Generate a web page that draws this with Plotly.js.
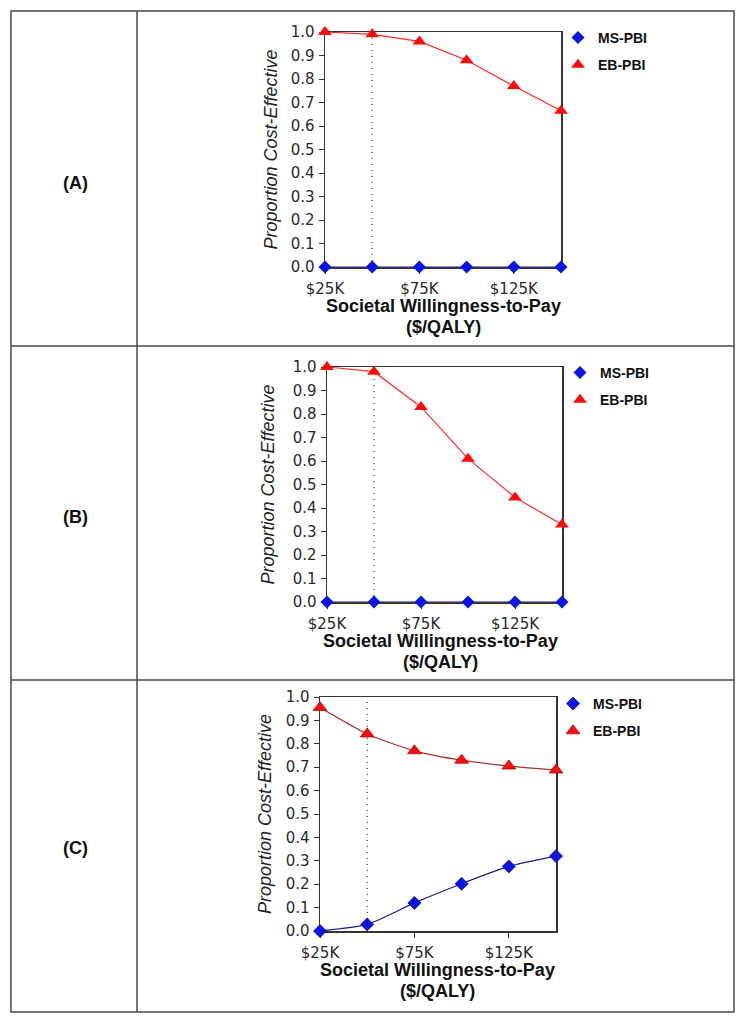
<!DOCTYPE html>
<html>
<head>
<meta charset="utf-8">
<script src="https://cdn.plot.ly/plotly-3.0.1.min.js"></script>
<style>html,body{margin:0;padding:0;background:#fff;}#chart{width:743px;height:1021px;}</style>
</head>
<body>
<div id="chart"></div>
<script>
// ---- data ----
const wtp = [25000, 50000, 75000, 100000, 125000, 150000];
const xTickVals = [25000, 75000, 125000];
const xTickText = ["$25K", "$75K", "$125K"];
const thresholdWtp = 50000;
const panelLabels = ["(A)", "(B)", "(C)"];
const seriesNames = ["MS-PBI", "EB-PBI"];
const msA = [0, 0, 0, 0, 0, 0];
const ebA = [1.0, 0.99, 0.96, 0.88, 0.77, 0.665];
const msB = [0, 0, 0, 0, 0, 0];
const ebB = [1.0, 0.98, 0.83, 0.61, 0.445, 0.33];
const msC = [0.0, 0.028, 0.12, 0.202, 0.276, 0.32];
const ebC = [0.955, 0.842, 0.77, 0.73, 0.705, 0.688];
const yTitle = "Proportion Cost-<i>Effective</i>";
const xTitle1 = "Societal Willingness-to-Pay";
const xTitle2 = "($/QALY)";

// ---- layout helpers (pixel -> paper) ----
const W = 743, H = 1021;
const px = v => v / W;
const py = v => 1 - v / H;

const panels = [
  {ms: msA, eb: ebA, box: [325, 561, 32, 267], msLine: "#1a1adc", ebLine: "#ff2a2a", smooth: false, leg: [558, 22], yt: 270, xc: 443, lab: 183},
  {ms: msB, eb: ebB, box: [327, 562, 367, 602], msLine: "#1a1adc", ebLine: "#ff2a2a", smooth: false, leg: [560, 357], yt: 268, xc: 441, lab: 517},
  {ms: msC, eb: ebC, box: [320, 556, 697, 931], msLine: "#1c1c80", ebLine: "#a8302e", smooth: true, leg: [553, 688], yt: 265, xc: 437, lab: 848}
];

const data = [];
const layout = {
  width: W, height: H,
  margin: {l: 0, r: 0, t: 0, b: 0},
  paper_bgcolor: "#fff", plot_bgcolor: "#fff",
  showlegend: true,
  font: {family: "Liberation Sans, Arial, sans-serif", color: "#222"},
  shapes: [], annotations: []
};

// table frame
const lc = {color: "#4a4a4a", width: 1.5};
layout.shapes.push({type: "rect", xref: "paper", yref: "paper", x0: px(11), x1: px(734), y0: py(1012), y1: py(11), line: lc});
layout.shapes.push({type: "line", xref: "paper", yref: "paper", x0: px(137), x1: px(137), y0: py(1012), y1: py(11), line: lc});
layout.shapes.push({type: "line", xref: "paper", yref: "paper", x0: px(11), x1: px(734), y0: py(346), y1: py(346), line: lc});
layout.shapes.push({type: "line", xref: "paper", yref: "paper", x0: px(11), x1: px(734), y0: py(680), y1: py(680), line: lc});

panels.forEach((p, i) => {
  const n = i === 0 ? "" : String(i + 1);
  const xa = "x" + n, ya = "y" + n;
  const legName = "legend" + n;
  const axisCommon = {
    showline: true, mirror: true, linecolor: "#333", linewidth: 1.5,
    ticks: "outside", ticklen: 5, tickcolor: "#333", tickwidth: 1,
    showgrid: false, zeroline: false, layer: "below traces",
    tickfont: {family: "DejaVu Sans, sans-serif", size: 15, color: "#2a2a2a"}
  };
  layout["xaxis" + n] = Object.assign({}, axisCommon, {
    domain: [px(p.box[0]), px(p.box[1])], anchor: ya,
    range: [wtp[0], wtp[wtp.length - 1]], tickvals: xTickVals, ticktext: xTickText,
    ticklabelstandoff: 2
  });
  layout["yaxis" + n] = Object.assign({}, axisCommon, {
    domain: [py(p.box[3]), py(p.box[2])], anchor: xa,
    range: [0, 1], dtick: 0.1, tick0: 0, tickformat: ".1f", ticklabelstandoff: 1
  });
  layout[legName] = {
    x: px(p.leg[0]), y: py(p.leg[1]), xanchor: "left", yanchor: "top",
    bgcolor: "rgba(0,0,0,0)", font: {size: 14, family: "Liberation Sans, Arial, sans-serif", color: "#111", weight: 700},
    itemwidth: 30, tracegroupgap: 6, traceorder: "grouped"
  };
  const shape = p.smooth ? "spline" : "linear";
  // lines
  data.push({x: wtp, y: p.ms, xaxis: xa, yaxis: ya, mode: "lines", line: {color: p.msLine, width: 1.2, shape: shape, smoothing: 0.6}, showlegend: false, hoverinfo: "skip"});
  data.push({x: wtp, y: p.eb, xaxis: xa, yaxis: ya, mode: "lines", line: {color: p.ebLine, width: 1.2, shape: shape, smoothing: 0.6}, showlegend: false, hoverinfo: "skip"});
  // markers (legend entries)
  data.push({x: wtp, y: p.ms, xaxis: xa, yaxis: ya, mode: "markers", name: seriesNames[0], legend: legName, legendgroup: "ms" + i,
    marker: {symbol: "diamond", size: 10, color: "#0a14e6", line: {width: p.smooth ? 0.8 : 0, color: "#101070"}}, cliponaxis: false});
  data.push({x: wtp, y: p.eb, xaxis: xa, yaxis: ya, mode: "markers", name: seriesNames[1], legend: legName, legendgroup: "eb" + i,
    marker: {symbol: "triangle-up", size: 12, color: "#ff0a0a", line: {width: p.smooth ? 0.8 : 0, color: "#a01010"}}, cliponaxis: false});
  // threshold dotted line
  layout.shapes.push({type: "line", xref: xa, yref: ya, x0: thresholdWtp, x1: thresholdWtp, y0: 0, y1: 1,
    line: {color: "#333", width: 1.2, dash: "1px,5px"}, layer: "below"});
  // axis titles
  layout.annotations.push({xref: "paper", yref: "paper", x: px(p.yt), y: py((p.box[2] + p.box[3]) / 2),
    text: yTitle, textangle: -90, showarrow: false, xanchor: "center", yanchor: "middle",
    font: {size: 18, style: "italic", family: "Liberation Sans, Arial, sans-serif", color: "#222"}});
  layout.annotations.push({xref: "paper", yref: "paper", x: px(p.xc), y: py(p.box[3] + 39),
    text: "<b>" + xTitle1 + "</b>", showarrow: false, xanchor: "center", yanchor: "middle",
    font: {size: 18, family: "Liberation Sans, Arial, sans-serif", color: "#111"}});
  layout.annotations.push({xref: "paper", yref: "paper", x: px(p.xc), y: py(p.box[3] + 60),
    text: "<b>" + xTitle2 + "</b>", showarrow: false, xanchor: "center", yanchor: "middle",
    font: {size: 18, family: "Liberation Sans, Arial, sans-serif", color: "#111"}});
  // row label
  layout.annotations.push({xref: "paper", yref: "paper", x: px(75), y: py(p.lab),
    text: "<b>" + panelLabels[i] + "</b>", showarrow: false, xanchor: "center", yanchor: "middle",
    font: {size: 18, family: "Liberation Sans, Arial, sans-serif", color: "#111"}});
});

Plotly.newPlot("chart", data, layout, {staticPlot: true, displayModeBar: false});
</script>
</body>
</html>
